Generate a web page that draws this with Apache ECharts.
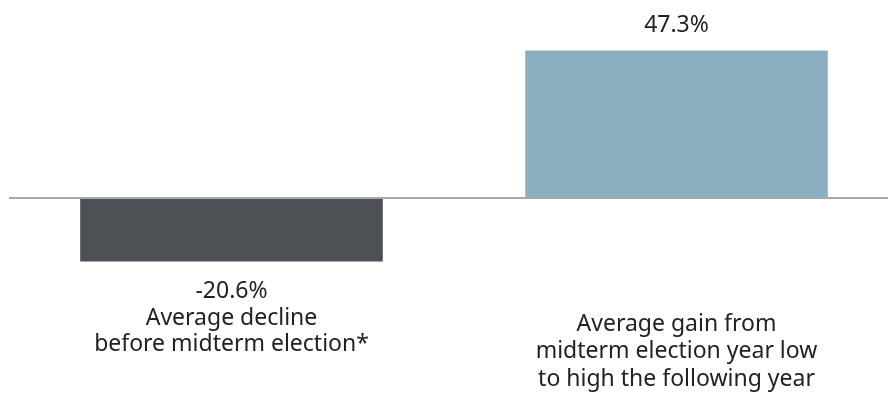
<!DOCTYPE html>
<html>
<head>
<meta charset="utf-8">
<script src="https://cdn.jsdelivr.net/npm/echarts@6/dist/echarts.min.js"></script>
<style>
html,body{margin:0;padding:0;background:#fff;overflow:hidden;}
#chart{width:900px;height:400px;}
</style>
</head>
<body>
<div id="chart"></div>
<script>
const categories = ['Average decline\nbefore midterm election*', 'Average gain from\nmidterm election year low\nto high the following year'];
const values = [-20.6, 47.3];
const barColors = ['#4d5055', '#8aafc1'];

const FONT = 'Noto Sans';
const FS = 23;
const chart = echarts.init(document.getElementById('chart'), null, {renderer: 'canvas'});
chart.setOption({
  animation: false,
  grid: {left: 9, right: 1, top: 42.1, height: 248.6},
  xAxis: {
    type: 'category',
    data: categories,
    axisLine: {show: false, onZero: false},
    axisTick: {show: false},
    axisLabel: {
      interval: 0,
      margin: 20,
      fontFamily: FONT,
      fontSize: FS,
      lineHeight: 27.5,
      color: '#222',
      formatter: function (v, i) { return values[i] < 0 ? '' : v; }
    }
  },
  yAxis: {type: 'value', min: -30, max: 50, show: false, splitLine: {show: false}},
  series: [{
    type: 'bar',
    barWidth: '68%',
    data: values.map(function (v, i) {
      return {
        value: v,
        itemStyle: {color: barColors[i]},
        label: {
          show: true,
          position: v < 0 ? 'bottom' : 'top',
          distance: v < 0 ? 17 : 12,
          fontFamily: FONT,
          fontSize: FS,
          lineHeight: 26.5,
          color: '#222',
          formatter: function () {
            return v < 0 ? v.toFixed(1) + '%\n' + categories[i] : v.toFixed(1) + '%';
          }
        }
      };
    }),
    markLine: {
      silent: true,
      symbol: 'none',
      label: {show: false},
      lineStyle: {color: '#a8a8a8', width: 2, type: 'solid'},
      data: [{yAxis: 0}]
    }
  }]
});
</script>
</body>
</html>
